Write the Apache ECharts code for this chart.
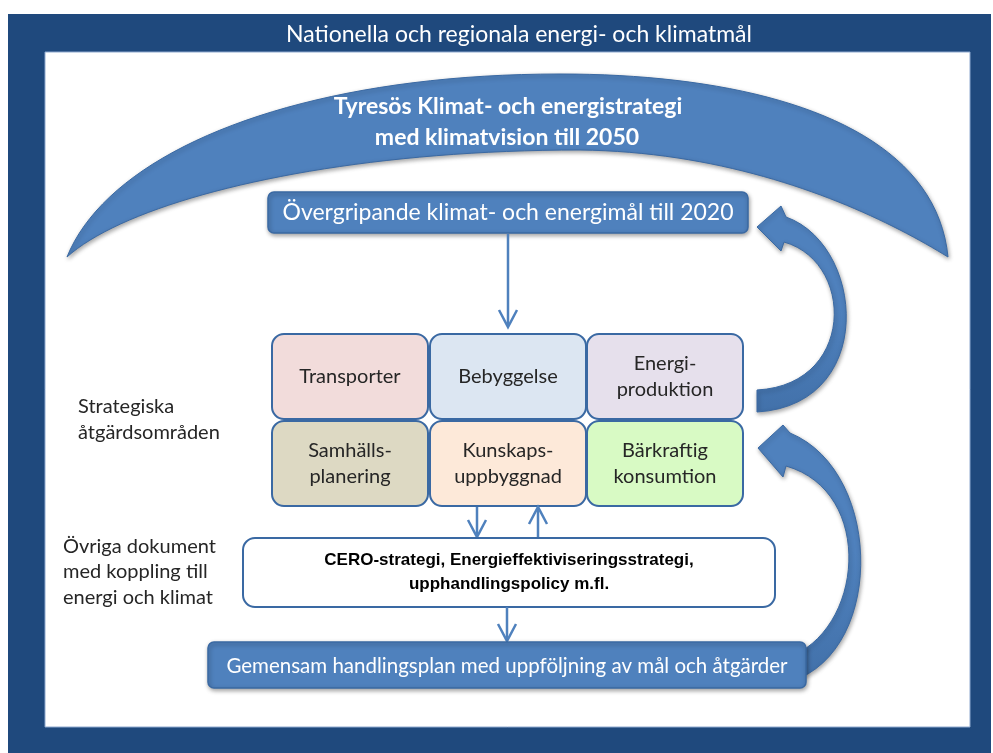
<!DOCTYPE html>
<html>
<head>
<meta charset="utf-8">
<script src="https://cdn.jsdelivr.net/npm/echarts@6/dist/echarts.min.js"></script>
<style>
  html, body { margin: 0; padding: 0; background: #fff; }
  #chart { width: 993px; height: 753px; }
</style>
</head>
<body>
<div id="chart"></div>
<script>
// texts of the diagram
const frameTitle = "Nationella och regionala energi- och klimatmål";
const strategyLines = ["Tyresös Klimat- och energistrategi", "med klimatvision till 2050"];
const goalText = "Övergripande klimat- och energimål till 2020";
const areaLabels = ["Transporter", "Bebyggelse", "Energi-\nproduktion", "Samhälls-\nplanering", "Kunskaps-\nuppbyggnad", "Bärkraftig\nkonsumtion"];
const areaCaption = "Strategiska\nåtgärdsområden";
const docsCaption = "Övriga dokument\nmed koppling till\nenergi och klimat";
const docsText = "CERO-strategi, Energieffektiviseringsstrategi,\nupphandlingspolicy m.fl.";
const planText = "Gemensam handlingsplan med uppföljning av mål och åtgärder";

// styles
const NAVY = "#1f497d";
const BLUE = "#4f81bd";
const EDGE = "#3a69a3";
const INK = "#262626";
const FONT = "Lato, 'Open Sans', sans-serif";
const areaFills = ["#f2dcdb", "#dce6f2", "#e6e0ec", "#ddd9c3", "#fde9d9", "#d8fac4"];
const shadow = { shadowBlur: 4, shadowOffsetX: 1, shadowOffsetY: 2, shadowColor: "rgba(0,0,0,0.35)" };

function bez(p0, p1, p2, p3, n) {
  const pts = [];
  for (let i = 0; i <= n; i++) {
    const t = i / n, u = 1 - t;
    const a = u * u * u, b = 3 * u * u * t, c = 3 * u * t * t, d = t * t * t;
    pts.push([a * p0[0] + b * p1[0] + c * p2[0] + d * p3[0], a * p0[1] + b * p1[1] + c * p2[1] + d * p3[1]]);
  }
  return pts;
}

function text(x, y, str, size, opts, weight) {
  return {
    type: "text",
    x, y,
    z: 10,
    style: Object.assign({
      text: str,
      fill: INK,
      font: (weight ? weight + " " : "") + size + "px " + FONT,
      align: "center",
      verticalAlign: "middle",
      lineHeight: Math.round(size * 1.3),
    }, opts || {}),
  };
}

function arrowLine(x, y1, y2) {
  const dir = y2 > y1 ? 1 : -1;
  return [
    { type: "line", shape: { x1: x, y1: y1, x2: x, y2: y2 - dir }, style: { stroke: BLUE, lineWidth: 2.5 } },
    {
      type: "polyline",
      shape: { points: [[x - 9, y2 - dir * 17], [x, y2], [x + 9, y2 - dir * 17]] },
      style: { stroke: BLUE, lineWidth: 2.5, fill: null },
    },
  ];
}

// slightly darker towards the bottom, like the twisted body of the curved arrows
const arrowFill = new echarts.graphic.LinearGradient(0, 0, 0, 1, [
  { offset: 0, color: BLUE },
  { offset: 0.5, color: BLUE },
  { offset: 1, color: "#4271aa" },
]);

// big crescent
const crescentPts = []
  .concat(bez([67, 257], [110, 150], [300, 74], [560, 74], 40))
  .concat(bez([560, 74], [760, 74], [935, 125], [948, 257], 40))
  .concat(bez([948, 257], [880, 215], [750, 152], [580, 150], 40))
  .concat(bez([580, 150], [330, 150], [130, 200], [67, 257], 40));

// curved arrow from Energiproduktion up to the 2020 goals
const curve1 = []
  .concat(bez([757, 390], [855, 385], [855, 262], [784, 242], 30))
  .concat([[781, 251], [757, 227], [781, 206]])
  .concat(bez([786, 217], [865, 245], [877, 405], [757, 412], 30));

// curved arrow from the action plan up to the strategic areas
const curve2 = []
  .concat(bez([800, 652], [865, 615], [870, 490], [786, 466], 30))
  .concat([[783, 477], [758, 448], [783, 425]])
  .concat(bez([790, 433], [880, 470], [885, 640], [800, 678], 30));

const elements = [
  // frame
  { type: "rect", shape: { x: 8, y: 14, width: 983, height: 745 }, style: { fill: NAVY } },
  { type: "rect", shape: { x: 45, y: 52, width: 925, height: 675 }, style: { fill: "#fff", stroke: "#8ea9cf", lineWidth: 1 } },
  text(519, 35, frameTitle, 23, { fill: "#fff" }),

  { type: "polygon", shape: { points: crescentPts }, style: Object.assign({ fill: BLUE, stroke: EDGE, lineWidth: 1 }, shadow) },
  text(508, 107, strategyLines[0], 23, { fill: "#fff" }, "bold"),
  text(507, 138, strategyLines[1], 23, { fill: "#fff" }, "bold"),

  { type: "rect", shape: { x: 268, y: 192, width: 480, height: 41, r: 6 }, style: Object.assign({ fill: BLUE, stroke: EDGE, lineWidth: 1.5 }, shadow) },
  text(508, 213, goalText, 23, { fill: "#fff" }),
  ...arrowLine(508, 234, 327),

  { type: "polygon", shape: { points: curve1 }, style: Object.assign({ fill: arrowFill, stroke: EDGE, lineWidth: 1 }, shadow) },
  { type: "polygon", shape: { points: curve2 }, style: Object.assign({ fill: arrowFill, stroke: EDGE, lineWidth: 1 }, shadow) },
];

// strategic areas, 3 x 2
const colX = [272, 430, 587];
const rowY = [334, 421];
areaLabels.forEach((label, i) => {
  const x = colX[i % 3], y = rowY[Math.floor(i / 3)];
  elements.push({
    type: "rect",
    shape: { x, y, width: 156, height: 85, r: 12 },
    style: { fill: areaFills[i], stroke: EDGE, lineWidth: 2 },
  });
  elements.push(text(x + 78, y + 43, label, 20, { lineHeight: 26 }));
});

elements.push(
  text(78, 420, areaCaption, 20, { align: "left", lineHeight: 26 }),
  text(63, 572, docsCaption, 20, { align: "left", lineHeight: 25.5 }),

  ...arrowLine(477, 507, 537),
  ...arrowLine(538, 537, 507),

  { type: "rect", shape: { x: 243, y: 538, width: 532, height: 69, r: 12 }, style: { fill: "#fff", stroke: EDGE, lineWidth: 2 } },
  text(509, 572, docsText, 17, { fill: "#000", font: "bold 17px 'Liberation Sans', Arial, sans-serif", lineHeight: 24 }),
  ...arrowLine(507, 607, 641),

  { type: "rect", shape: { x: 208, y: 642, width: 598, height: 46, r: 6 }, style: Object.assign({ fill: BLUE, stroke: EDGE, lineWidth: 1.5 }, shadow) },
  text(507, 666, planText, 20.5, { fill: "#fff" })
);

const chart = echarts.init(document.getElementById("chart"));
chart.setOption({
  animation: false,
  graphic: { elements },
});
</script>
</body>
</html>
